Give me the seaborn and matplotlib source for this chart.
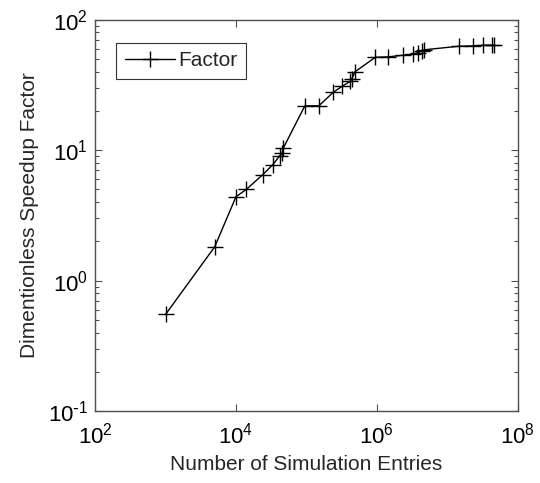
import matplotlib
matplotlib.use("Agg")
import matplotlib.pyplot as plt
import matplotlib.ticker as mticker
import numpy as np
import pandas as pd
import seaborn as sns

# values (log-log)
entries = [1e3, 5e3, 1e4, 1.4e4, 2.4e4, 3.3e4, 4.2e4, 4.5e4, 4.7e4,
           9.5e4, 1.5e5, 2.4e5, 3.2e5, 4.2e5, 4.4e5, 4.9e5,
           9.5e5, 1.45e6, 2.35e6, 3.25e6, 3.8e6, 4.35e6, 4.7e6,
           1.45e7, 2.3e7, 3.2e7, 4.25e7, 4.6e7]
speedup = [0.55, 1.82, 4.4, 5.0, 6.5, 7.7, 9.1, 9.5, 10.4,
           21.9, 21.9, 27.8, 30.9, 33.8, 35.3, 40.0,
           51.6, 52.0, 53.5, 54.5, 55.9, 57.8, 58.9,
           62.7, 63.1, 63.8, 63.8, 63.8]

df = pd.DataFrame({"entries": entries, "speedup": speedup})

sns.set_theme(style="ticks")
plt.rcParams["font.family"] = ["Liberation Sans", "DejaVu Sans"]
plt.rcParams["mathtext.default"] = "regular"
plt.rcParams["axes.unicode_minus"] = False

axis_col = "#505050"


def pow10(v, pos):
    e = int(round(np.log10(v)))
    if e < 0:
        return r"$10^{\text{-}%d}$" % (-e)
    return r"$10^{%d}$" % e


fig = plt.figure(figsize=(5.4, 4.83), dpi=100)
ax = fig.add_axes([0.176, 0.149, 0.783, 0.810])

sns.lineplot(data=df, x="entries", y="speedup", estimator=None, sort=False,
             marker="+", markersize=11, markeredgewidth=1.0,
             markeredgecolor="black", color="black",
             linewidth=1.0, label="Factor", ax=ax)

ax.set_xscale("log")
ax.set_yscale("log")
ax.set_xlim(1e2, 1e8)
ax.set_ylim(1e-1, 1e2)

ax.xaxis.set_major_locator(mticker.FixedLocator([1e2, 1e4, 1e6, 1e8]))
ax.xaxis.set_minor_locator(mticker.NullLocator())
ax.xaxis.set_major_formatter(mticker.FuncFormatter(pow10))
ax.yaxis.set_major_locator(mticker.FixedLocator([1e-1, 1e0, 1e1, 1e2]))
ax.yaxis.set_major_formatter(mticker.FuncFormatter(pow10))
ax.yaxis.set_minor_locator(mticker.LogLocator(base=10, subs=np.arange(2, 10), numticks=20))
ax.yaxis.set_minor_formatter(mticker.NullFormatter())

ax.tick_params(which="both", direction="in", top=True, right=True,
               colors=axis_col, labelcolor="black", labelsize=16, width=0.8)
ax.tick_params(which="major", length=5, pad=5)
ax.tick_params(axis="x", which="major", pad=8)
ax.tick_params(which="minor", length=3)
for s in ax.spines.values():
    s.set_color(axis_col)
    s.set_linewidth(1.0)

ax.set_xlabel("Number of Simulation Entries", fontsize=15, color="#262626", labelpad=5)
ax.set_ylabel("Dimentionless Speedup Factor", fontsize=15, color="#262626", labelpad=6)

leg = ax.legend(loc="upper left", bbox_to_anchor=(0.05, 0.941), borderaxespad=0,
                fontsize=15, frameon=True, fancybox=False, edgecolor="black",
                handlelength=2.4, borderpad=0.4, handletextpad=0.2)
leg.get_frame().set_linewidth(0.8)

fig.savefig("out.png", dpi=100)
